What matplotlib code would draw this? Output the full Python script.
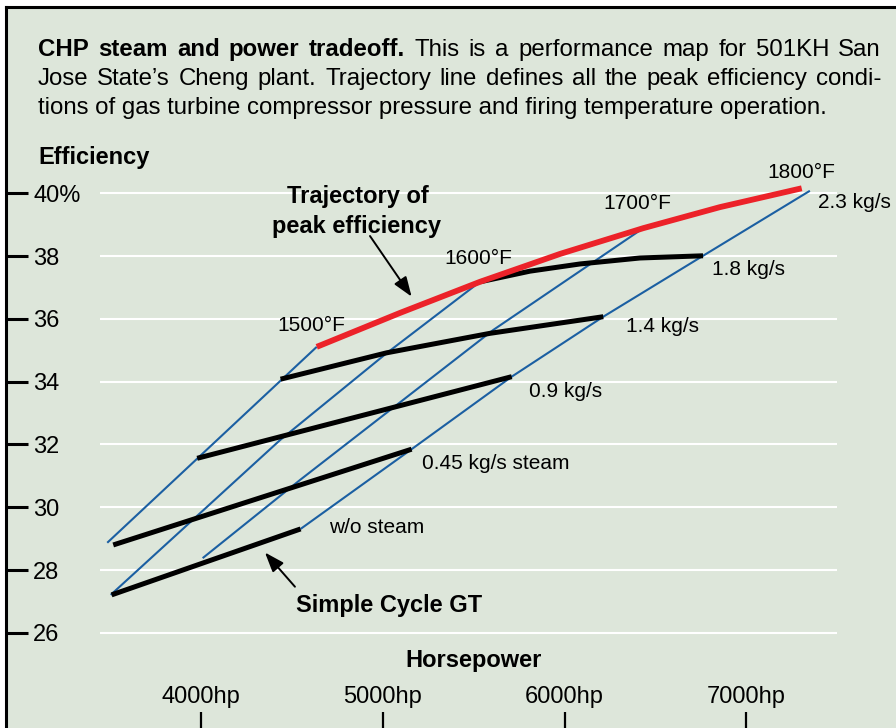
import matplotlib.pyplot as plt

plt.rcParams['font.family'] = ['Liberation Sans', 'DejaVu Sans']

W, H = 896, 728

# axis ticks
eff_ticks = [26, 28, 30, 32, 34, 36, 38, 40]
eff_labels = ['26', '28', '30', '32', '34', '36', '38', '40%']
hp_ticks = [4000, 5000, 6000, 7000]
hp_labels = ['4000hp', '5000hp', '6000hp', '7000hp']

# constant firing temperature lines (blue)
t1500_hp = [3483, 4636]
t1500_eff = [28.87, 35.11]
t1600_hp = [3502, 4434, 5021, 5534]
t1600_eff = [27.21, 32.14, 34.91, 37.18]
t1700_hp = [4008, 4544, 5608, 6433]
t1700_eff = [28.38, 30.87, 35.65, 38.89]
t1800_hp = [4547, 5158, 5709, 6213, 6762, 7350]
t1800_eff = [29.31, 31.85, 34.16, 36.07, 38.01, 40.08]

# constant steam flow lines (black)
wo_hp = [3507, 4547]
wo_eff = [27.21, 29.31]
s045_hp = [3516, 5158]
s045_eff = [28.80, 31.85]
s09_hp = [3978, 5709]
s09_eff = [31.56, 34.16]
s14_hp = [4437, 5021, 5589, 6213]
s14_eff = [34.08, 34.92, 35.54, 36.07]
s18_hp = [5534, 5809, 6085, 6415, 6762]
s18_eff = [37.18, 37.52, 37.75, 37.94, 38.01]

# trajectory of peak efficiency (red)
peak_hp = [4636, 5094, 5534, 5975, 6433, 6855, 7305]
peak_eff = [35.11, 36.19, 37.18, 38.07, 38.89, 39.56, 40.16]

bg = '#dde6da'
blue = '#1b5fa2'
red = '#ec2229'

fig = plt.figure(figsize=(W / 100, H / 100), dpi=100, facecolor='white')
ax = fig.add_axes([5.5 / W, 0, 890.5 / W, 721.5 / H])
ax.set_facecolor(bg)
ax.set_xlim(2923, 7824)
ax.set_ylim(22.97, 45.95)

for s in ['right', 'bottom']:
    ax.spines[s].set_visible(False)
for s in ['left', 'top']:
    ax.spines[s].set_linewidth(2.2)
    ax.spines[s].set_color('black')

ax.hlines(eff_ticks, 3443, 7499, colors='white', lw=1.5, zorder=1)

ax.set_yticks(eff_ticks)
ax.set_yticklabels(eff_labels, ha='left', fontsize=17)
ax.tick_params(axis='y', direction='in', length=15.5, width=2.2, pad=-20)
ax.set_xticks(hp_ticks)
ax.set_xticklabels(hp_labels, va='baseline', fontsize=17)
ax.tick_params(axis='x', direction='in', length=11.5, width=1.6, pad=-18)

for xs, ys in [(t1500_hp, t1500_eff), (t1600_hp, t1600_eff),
               (t1700_hp, t1700_eff), (t1800_hp, t1800_eff)]:
    ax.plot(xs, ys, color=blue, lw=1.5, zorder=2, solid_capstyle='butt')

for xs, ys in [(wo_hp, wo_eff), (s045_hp, s045_eff), (s09_hp, s09_eff),
               (s14_hp, s14_eff), (s18_hp, s18_eff)]:
    ax.plot(xs, ys, color='black', lw=3.6, zorder=3,
            solid_capstyle='butt', solid_joinstyle='round')

ax.plot(peak_hp, peak_eff, color=red, lw=4.2, zorder=4,
        solid_capstyle='butt', solid_joinstyle='round')

# curve labels
lab = dict(fontsize=15, va='baseline')
ax.text(4604, 35.62, '1500°F', ha='center', **lab)
ax.text(5523, 37.76, '1600°F', ha='center', **lab)
ax.text(6398, 39.49, '1700°F', ha='center', **lab)
ax.text(7305, 40.48, '1800°F', ha='center', **lab)
ax.text(7392, 39.53, '2.3 kg/s', ha='left', **lab)
ax.text(6814, 37.41, '1.8 kg/s', ha='left', **lab)
ax.text(6339, 35.57, '1.4 kg/s', ha='left', **lab)
ax.text(5806, 33.52, '0.9 kg/s', ha='left', **lab)
ax.text(5216, 31.21, '0.45 kg/s steam', ha='left', **lab)
ax.text(4706, 29.17, 'w/o steam', ha='left', **lab)

bold = dict(fontsize=17, fontweight='bold', va='baseline')
ax.text(3104, 40.93, 'Efficiency', ha='left', **bold)
ax.text(4860, 39.68, 'Trajectory of', ha='center', **bold)
ax.text(4856, 38.72, 'peak efficiency', ha='center', **bold)
ax.text(5034, 26.68, 'Simple Cycle GT', ha='center', **bold)
ax.text(5501, 24.92, 'Horsepower', ha='center', **bold)

arrow = dict(arrowstyle='-|>,head_length=0.6,head_width=0.22', color='black',
             lw=1.4, mutation_scale=20, shrinkA=0, shrinkB=0)
ax.annotate('', xy=(5158, 36.71), xytext=(4929, 38.64), arrowprops=arrow, zorder=5)
ax.annotate('', xy=(4351, 28.56), xytext=(4516, 27.47), arrowprops=arrow, zorder=5)

# justified caption
caption = [
    ('CHP steam and power tradeoff.', 'This is a performance map for 501KH San', True),
    ('', 'Jose State\u2019s Cheng plant. Trajectory line defines all the peak efficiency condi-', True),
    ('', 'tions of gas turbine compressor pressure and firing temperature operation.', False),
]
baselines = [56, 85, 114]
x0, x1 = 38, 881
fs = 17.3
renderer = fig.canvas.get_renderer()
for (b, r, justify), yb in zip(caption, baselines):
    words = [(w, 'bold') for w in b.split()] + [(w, 'normal') for w in r.split()]
    if not justify:
        fig.text(x0 / W, 1 - yb / H, r, fontsize=fs, va='baseline')
        continue
    texts = [fig.text(0, 1 - yb / H, w, fontsize=fs, fontweight=fw, va='baseline')
             for w, fw in words]
    widths = [t.get_window_extent(renderer).width for t in texts]
    gap = (x1 - x0 - sum(widths)) / (len(texts) - 1)
    x = x0
    for t, wd in zip(texts, widths):
        t.set_x(x / W)
        x += wd + gap

fig.savefig('out.png', dpi=100)
